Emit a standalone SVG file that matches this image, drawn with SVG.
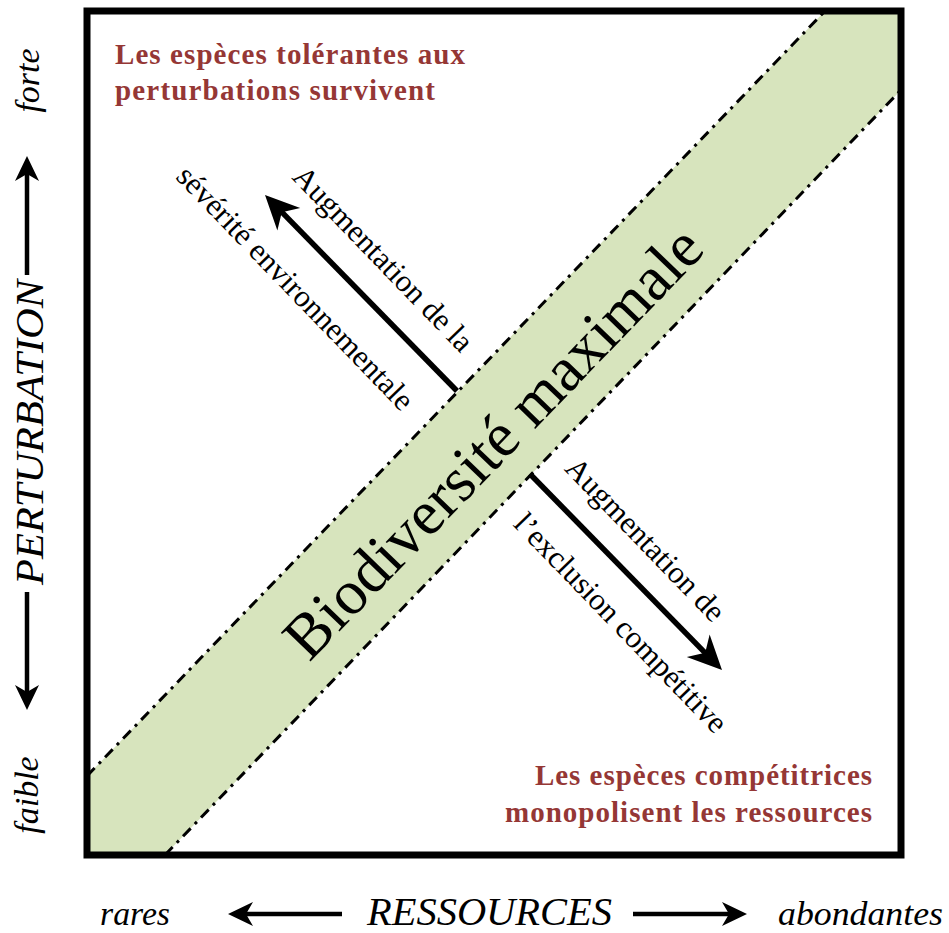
<svg xmlns="http://www.w3.org/2000/svg" width="949" height="933" viewBox="0 0 949 933">
<style>
.serif{font-family:"Liberation Serif","DejaVu Serif",serif;fill:#000}
.ax{font-style:italic}
.red{font-family:"Liberation Serif","DejaVu Serif",serif;font-weight:bold;fill:#953735;font-size:29px}
.lbl{font-size:31px}
.big{stroke:#000;stroke-width:5.5;fill:none;marker-end:url(#ah)}
.small{stroke:#000;stroke-width:4.5;fill:none;marker-end:url(#sh)}
.edge{stroke:#000;stroke-width:3;fill:none;stroke-dasharray:11 6 3 6}
</style>
<defs>
<marker id="ah" markerUnits="userSpaceOnUse" viewBox="-36 -18 38 36" markerWidth="38" markerHeight="36" refX="-22" refY="0" orient="auto"><path d="M0,0 L-34,-16 L-24,0 L-34,16 Z" fill="#000"/></marker>
<marker id="sh" markerUnits="userSpaceOnUse" viewBox="-27 -13 29 26" markerWidth="29" markerHeight="26" refX="-16" refY="0" orient="auto"><path d="M0,0 L-25,-12 L-18,0 L-25,12 Z" fill="#000"/></marker>
<clipPath id="box"><rect x="87" y="11" width="814" height="844"/></clipPath>
</defs>
<rect width="949" height="933" fill="#fff"/>
<g id="band">
<polygon points="87,776 825,11 901,11 901,90 165,855 87,855" fill="#d7e4bd"/>
<g clip-path="url(#box)">
<line class="edge" x1="87" y1="776" x2="825" y2="11"/>
<line class="edge" x1="165" y1="855" x2="901" y2="90"/>
</g>
<text class="serif" font-size="63" text-anchor="middle" transform="translate(508,457) rotate(-46)">Biodiversité maximale</text>
</g>
<g id="frame">
<rect x="87" y="11" width="814" height="844" fill="none" stroke="#000" stroke-width="7"/>
</g>
<g id="connectors">
<line class="big" x1="457" y1="391" x2="280.4" y2="210.7"/>
<line class="big" x1="530" y1="474" x2="706.6" y2="654.3"/>
<line class="small" x1="27" y1="275" x2="27" y2="172"/>
<line class="small" x1="27" y1="592" x2="27" y2="694"/>
<line class="small" x1="342" y1="914" x2="244" y2="914"/>
<line class="small" x1="633" y1="914" x2="731" y2="914"/>
</g>
<g id="severite">
<text class="serif lbl" text-anchor="middle" transform="translate(376,266) rotate(46)">Augmentation de la</text>
<text class="serif lbl" text-anchor="middle" transform="translate(288,295) rotate(46)">sévérité environnementale</text>
</g>
<g id="exclusion">
<text class="serif lbl" text-anchor="middle" transform="translate(638,546.5) rotate(46)">Augmentation de</text>
<text class="serif lbl" text-anchor="middle" transform="translate(613.5,630) rotate(46)">l’exclusion compétitive</text>
</g>
<g id="tolerantes">
<text class="red" x="115" y="64" textLength="350" lengthAdjust="spacing">Les espèces tolérantes aux</text>
<text class="red" x="115" y="100" textLength="320" lengthAdjust="spacing">perturbations survivent</text>
</g>
<g id="competitrices">
<text class="red" x="535" y="785" textLength="337" lengthAdjust="spacing">Les espèces compétitrices</text>
<text class="red" x="505" y="822" textLength="367" lengthAdjust="spacing">monopolisent les ressources</text>
</g>
<g id="axis-y">
<text class="serif ax" font-size="34" text-anchor="middle" transform="translate(39,80.5) rotate(-90)">forte</text>
<text class="serif ax" font-size="41" text-anchor="middle" transform="translate(43,432.5) rotate(-90)" textLength="305" lengthAdjust="spacingAndGlyphs">PERTURBATION</text>
<text class="serif ax" font-size="34" text-anchor="middle" transform="translate(38,795) rotate(-90)">faible</text>
</g>
<g id="axis-x">
<text class="serif ax" font-size="34" x="100" y="925" textLength="70" lengthAdjust="spacingAndGlyphs">rares</text>
<text class="serif ax" font-size="39" x="367" y="925" textLength="245" lengthAdjust="spacingAndGlyphs">RESSOURCES</text>
<text class="serif ax" font-size="34" x="778" y="925" textLength="165" lengthAdjust="spacingAndGlyphs">abondantes</text>
</g>
</svg>
